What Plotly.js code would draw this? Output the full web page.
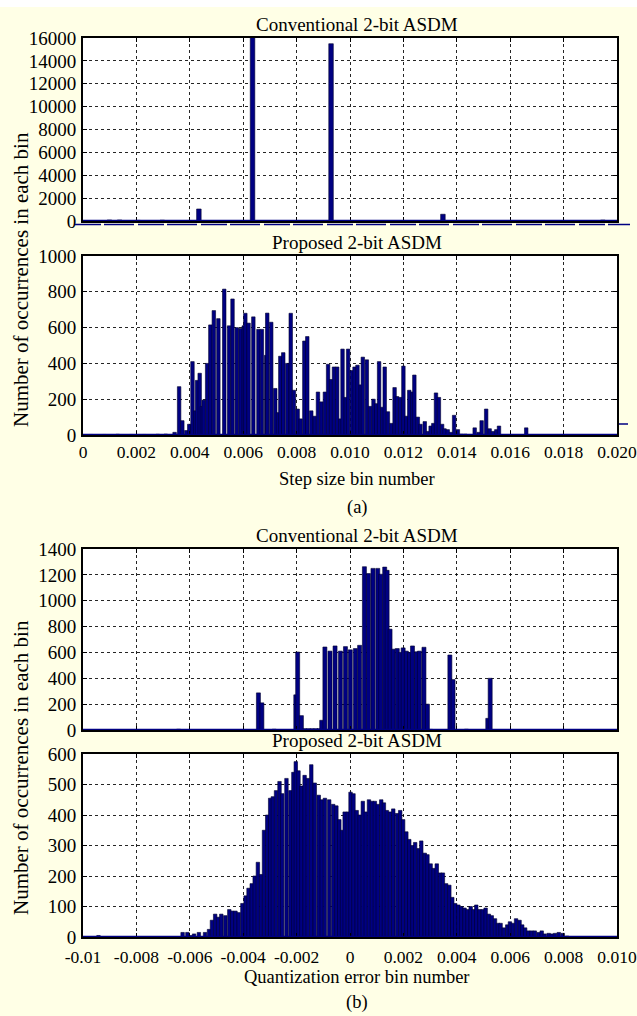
<!DOCTYPE html>
<html>
<head>
<meta charset="utf-8">
<script src="https://cdn.plot.ly/plotly-3.0.1.min.js"></script>
<style>html,body{margin:0;padding:0;background:#fff;}#chart{width:637px;height:1016px;}</style>
</head>
<body>
<div id="chart"></div>
<script>
// ---------- DATA ----------
// (a) top: conventional 2-bit ASDM, step size histogram
const convStepX = [0.00099, 0.00137, 0.00206, 0.00297, 0.00434, 0.00635, 0.00929, 0.01348, 0.01947];
const convStepCount = [90, 90, 60, 70, 1050, 16800, 15500, 590, 80];

// (a) bottom: proposed 2-bit ASDM, step size histogram
const propStepX = [0.0003,0.0008,0.0013,0.0018,0.0023,0.0028,0.0031,
  0.00343,0.0036,0.00372,0.00387,0.00398,0.0041,0.0042,0.00427,0.00437,0.00445,0.00452,0.00465,0.00477,0.0049,
  0.00507,0.00529,0.00547,0.0056,0.00576,0.0059,0.00602,0.00608,0.0062,0.00638,0.00657,0.0067,0.00686,0.0069,
  0.00705,0.0072,0.0073,0.00739,0.0075,0.00765,0.00778,0.0079,0.00804,0.00815,0.00829,0.0084,0.00855,0.00868,
  0.0088,0.00893,0.00906,0.00918,0.00929,0.0094,0.00952,0.00964,0.00972,0.00984,0.00993,0.01007,0.01017,0.01028,
  0.0104,0.01048,0.01063,0.01075,0.01088,0.01098,0.01109,0.01121,0.0113,0.01142,0.01155,0.01167,0.01176,0.01188,
  0.012,0.01211,0.01222,0.01234,0.01241,0.01254,0.01264,0.0128,0.01292,0.01302,0.01312,0.01322,0.01333,0.01345,
  0.01354,0.01366,0.01378,0.0139,0.01404,0.01418,0.01432,0.0145,0.01467,0.01482,0.01493,0.0151,0.01523,0.01536,
  0.01548,0.01558,0.0166];
const propStepCount = [3,3,4,3,3,4,5,
  15,270,80,25,60,410,135,305,345,160,195,400,615,695,
  650,815,610,760,600,595,610,680,625,660,590,590,445,681,
  630,260,125,440,460,400,680,250,145,90,525,550,135,105,
  240,185,240,395,310,380,380,90,480,210,480,360,380,390,
  280,435,420,160,200,175,410,155,380,130,65,265,215,210,
  385,105,250,240,335,100,60,75,20,50,65,235,210,60,
  35,30,15,110,30,5,5,3,40,15,80,145,35,20,
  30,50,40];

// (b) top: conventional 2-bit ASDM, quantization error histogram
const convErrX = [-0.00642,-0.00343,-0.0033,-0.00284,-0.00203,-0.00196,-0.00182,-0.0017,-0.00156,-0.00142,-0.00128,-0.00116,
  -0.00106,-0.00094,-0.00075,-0.00056,-0.00036,-0.00017,0.00001,0.0002,0.00036,0.00054,0.00069,0.00086,0.00104,
  0.00115,0.0013,0.00139,0.0015,0.00162,0.00177,0.00188,0.00199,0.00211,0.00223,0.00234,0.00249,0.0026,0.00277,
  0.0029,0.00302,0.00374,0.00386,0.00436,0.00516,0.00525];
const convErrCount = [6,287,210,6,272,603,111,10,10,10,10,10,
  75,642,610,650,610,645,620,630,655,1263,1210,1250,1250,
  1205,1260,1235,780,625,630,600,635,610,600,650,605,610,640,
  200,5,580,390,6,90,400];

// (b) bottom: proposed 2-bit ASDM, quantization error histogram
const propErrX = [-0.00942,-0.00627,-0.00609,-0.00596,-0.00584,-0.00566,-0.00543,-0.00528,-0.00517,-0.00505,-0.00494,
  -0.00482,-0.00467,-0.00452,-0.00441,-0.00429,-0.00417,-0.00403,-0.00391,-0.0038,-0.00368,-0.00357,-0.00345,
  -0.00333,-0.00322,-0.0031,-0.00299,-0.00289,-0.00277,-0.00264,-0.00254,-0.00238,-0.00223,-0.00212,-0.00203,
  -0.00193,-0.00182,-0.0017,-0.00158,-0.00145,-0.00132,-0.00117,-0.00106,-0.00094,-0.00078,-0.00063,-0.00051,
  -0.0004,-0.0003,-0.0002,-0.00008,0.00002,0.00013,0.00025,0.00036,0.00048,0.00059,0.00071,0.00082,0.00093,
  0.00104,0.00117,0.00127,0.00138,0.0015,0.00162,0.00176,0.00188,0.00199,0.00211,0.00222,0.00234,0.00244,
  0.00257,0.00267,0.0028,0.0029,0.00302,0.00313,0.00325,0.00337,0.00348,0.0036,0.00372,0.00383,0.00394,
  0.00406,0.00417,0.00429,0.0044,0.00452,0.00462,0.00473,0.00485,0.00497,0.00508,0.0052,0.00531,0.00543,
  0.00554,0.00564,0.00576,0.00589,0.00599,0.0061,0.00622,0.00635,0.00645,0.00656,0.00668,0.0068,0.00692,
  0.00706,0.00718,0.00729,0.00744,0.00756,0.00768,0.00782,0.00797,0.00813];
const propErrCount = [5,15,15,5,10,15,15,25,55,75,65,
  75,70,90,85,85,80,110,135,160,175,200,245,
  205,350,400,455,460,480,510,470,520,480,540,575,
  545,495,530,520,565,505,465,450,455,450,435,430,
  385,350,410,410,475,470,415,400,445,410,450,445,445,
  435,450,440,415,410,420,405,415,385,345,320,300,310,
  290,315,275,270,240,225,240,210,210,175,170,130,110,
  105,100,95,90,100,90,105,90,90,95,75,70,60,
  45,45,30,40,50,45,60,55,40,30,20,20,20,
  15,20,10,12,10,12,15,12,3];

// tick labels
const stepTickVals = [0,0.002,0.004,0.006,0.008,0.010,0.012,0.014,0.016,0.018,0.020];
const stepTickText = ['0','0.002','0.004','0.006','0.008','0.010','0.012','0.014','0.016','0.018','0.020'];
const errTickVals = [-0.01,-0.008,-0.006,-0.004,-0.002,0,0.002,0.004,0.006,0.008,0.010];
const errTickText = ['-0.01','-0.008','-0.006','-0.004','-0.002','0','0.002','0.004','0.006','0.008','0.010'];
const y1Ticks = [0,2000,4000,6000,8000,10000,12000,14000,16000];
const y2Ticks = [0,200,400,600,800,1000];
const y3Ticks = [0,200,400,600,800,1000,1200,1400];
const y4Ticks = [0,100,200,300,400,500,600];

const titles = ['Conventional 2-bit ASDM','Proposed 2-bit ASDM','Conventional 2-bit ASDM','Proposed 2-bit ASDM'];
const yLabel = 'Number of occurrences in each bin';
const xLabelA = 'Step size bin number';
const xLabelB = 'Quantization error bin number';

// ---------- STYLE / LAYOUT ----------
const W = 637, H = 1016;
const FONT = 'Liberation Serif, Times New Roman, serif';
const BAR = 'rgb(0,0,130)';
const EDGE = 'rgb(0,0,45)';
const BG = 'rgb(255,255,230)';
const px = v => v / W;
const py = v => 1 - v / H;

const xDom = [px(83), px(617)];
const plots = [
  {top: 38, bot: 221},
  {top: 256, bot: 435},
  {top: 549, bot: 730},
  {top: 754, bot: 937}
];

function bars(x, y, ax, w) {
  return {type: 'bar', x: x, y: y, xaxis: 'x' + ax, yaxis: 'y' + ax, width: w,
    marker: {color: BAR, line: {color: EDGE, width: 0.6}}, hoverinfo: 'x+y', showlegend: false};
}

const traces = [
  bars(convStepX, convStepCount, '', 0.00017),
  bars(propStepX, propStepCount, '2', 0.00013),
  bars(convErrX, convErrCount, '3', 0.00015),
  bars(propErrX, propErrCount, '4', 0.00013)
];

function xax(range, anchor, showLabels, tv, tt, standoff) {
  return {domain: xDom, range: range, anchor: anchor, showgrid: true, gridcolor: 'rgba(0,0,0,0.85)', griddash: 'dot', gridwidth: 1,
    zeroline: false, showline: true, linecolor: '#000', linewidth: 2, mirror: 'ticks', ticks: 'inside', ticklen: 4, tickcolor: '#000',
    tickvals: tv, ticktext: tt, showticklabels: showLabels, ticklabeloverflow: 'allow',
    tickfont: {family: FONT, size: 17.5, color: '#000'}, ticklabelstandoff: standoff};
}
function yax(range, p, anchor, tv) {
  return {domain: [py(p.bot), py(p.top)], range: range, anchor: anchor, showgrid: true, gridcolor: 'rgba(0,0,0,0.85)', griddash: 'dot', gridwidth: 1,
    zeroline: false, showline: true, linecolor: '#000', linewidth: 2, mirror: 'ticks', ticks: 'inside', ticklen: 4, tickcolor: '#000',
    tickvals: tv, ticktext: tv.map(String), ticklabeloverflow: 'allow',
    tickfont: {family: FONT, size: 19, color: '#000'}, ticklabelstandoff: 1};
}

const shapes = [
  {type: 'rect', xref: 'paper', yref: 'paper', x0: 0, x1: 1, y0: py(7), y1: 1, fillcolor: '#fff', line: {width: 0}, layer: 'below'},
  // odd dashed blue line just under the first panel
  {type: 'line', xref: 'paper', yref: 'paper', x0: px(75), x1: px(630), y0: py(224.5), y1: py(224.5),
    line: {color: BAR, width: 1.5, dash: '26px,3px,30px,4px'}},
  // short blue stub right of the second panel
  {type: 'line', xref: 'paper', yref: 'paper', x0: px(619), x1: px(628), y0: py(424), y1: py(424), line: {color: BAR, width: 1.5}}
];
['', '2', '3', '4'].forEach(a => {
  shapes.push({type: 'line', xref: 'x' + a + ' domain', yref: 'y' + a, x0: 0, x1: 1, y0: 0, y1: 0, line: {color: BAR, width: 2.5}, layer: 'above'});
});

const ann = [];
plots.forEach((p, i) => {
  ann.push({text: titles[i], xref: 'paper', yref: 'paper', x: px(357), y: py(p.top - 1), xanchor: 'center', yanchor: 'bottom',
    showarrow: false, font: {family: FONT, size: 19, color: '#000'}});
});
ann.push({text: yLabel, xref: 'paper', yref: 'paper', x: px(21), y: py(280), textangle: -90, xanchor: 'center', yanchor: 'middle',
  showarrow: false, font: {family: FONT, size: 21, color: '#000'}});
ann.push({text: yLabel, xref: 'paper', yref: 'paper', x: px(21), y: py(768), textangle: -90, xanchor: 'center', yanchor: 'middle',
  showarrow: false, font: {family: FONT, size: 21, color: '#000'}});
ann.push({text: xLabelA, xref: 'paper', yref: 'paper', x: px(357), y: py(479), xanchor: 'center', yanchor: 'middle',
  showarrow: false, font: {family: FONT, size: 18.5, color: '#000'}});
ann.push({text: '(a)', xref: 'paper', yref: 'paper', x: px(357), y: py(507), xanchor: 'center', yanchor: 'middle',
  showarrow: false, font: {family: FONT, size: 18.5, color: '#000'}});
ann.push({text: xLabelB, xref: 'paper', yref: 'paper', x: px(357), y: py(977), xanchor: 'center', yanchor: 'middle',
  showarrow: false, font: {family: FONT, size: 18.5, color: '#000'}});
ann.push({text: '(b)', xref: 'paper', yref: 'paper', x: px(357), y: py(1002), xanchor: 'center', yanchor: 'middle',
  showarrow: false, font: {family: FONT, size: 18.5, color: '#000'}});

const layout = {
  width: W, height: H, margin: {l: 0, r: 0, t: 0, b: 0},
  paper_bgcolor: BG, plot_bgcolor: '#fff', barmode: 'overlay', bargap: 0, showlegend: false,
  font: {family: FONT, color: '#000'},
  xaxis: xax([0, 0.02], 'y', false, stepTickVals, stepTickText, 0),
  yaxis: yax([0, 16000], plots[0], 'x', y1Ticks),
  xaxis2: xax([0, 0.02], 'y2', true, stepTickVals, stepTickText, 0),
  yaxis2: yax([0, 1000], plots[1], 'x2', y2Ticks),
  xaxis3: xax([-0.01, 0.01], 'y3', false, errTickVals, errTickText, 0),
  yaxis3: yax([0, 1400], plots[2], 'x3', y3Ticks),
  xaxis4: xax([-0.01, 0.01], 'y4', true, errTickVals, errTickText, 3),
  yaxis4: yax([0, 600], plots[3], 'x4', y4Ticks),
  shapes: shapes, annotations: ann
};

Plotly.newPlot('chart', traces, layout, {displayModeBar: false, staticPlot: true});
</script>
</body>
</html>
